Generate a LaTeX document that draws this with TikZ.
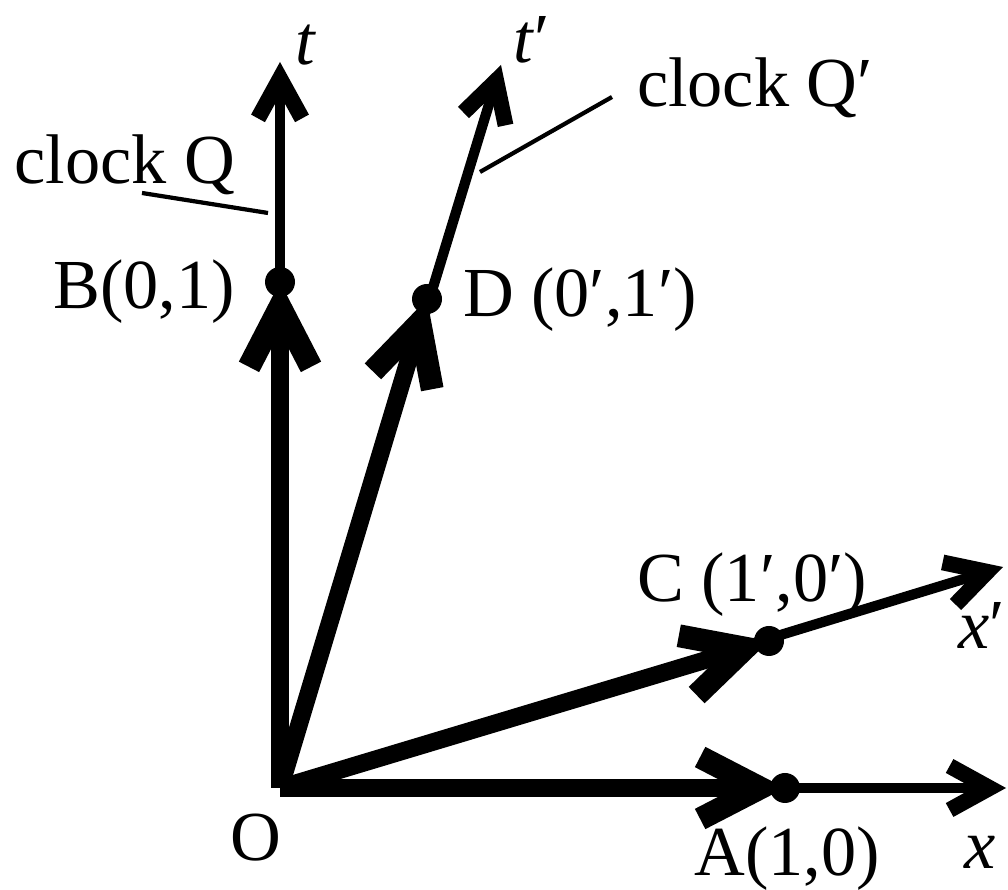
\documentclass[tikz,border=0pt]{standalone}
\usepackage{fontspec}
\setmainfont{Liberation Serif}
\usetikzlibrary{arrows.meta}

\begin{document}
\begin{tikzpicture}[
    font=\fontsize{20}{24}\selectfont,
    axis/.style={line width=2.9pt, -{Straight Barb[length=0.40cm, width=0.44cm, line width=4.5pt, line cap=butt, line join=miter]}},
    vec/.style={line width=5pt, -{Straight Barb[length=0.60cm, width=0.62cm, line width=6.5pt, line cap=butt, line join=miter]}},
    pointer/.style={line width=1.2pt},
    dot/.style={circle, fill, inner sep=0pt, minimum size=0.3cm}
  ]
    \useasboundingbox (-2.80,-1.02) rectangle (7.28,7.88);
    % Points
    \coordinate (O) at (0,0);
    \coordinate (A) at (5.05,0);
    \coordinate (B) at (0,5.06);
    \coordinate (C) at (4.89,1.47);
    \coordinate (D) at (1.47,4.89);
    \coordinate (xend) at (7.26,0);
    \coordinate (tend) at (0,7.26);
    \coordinate (xpend) at (7.23,2.21);
    \coordinate (tpend) at (2.21,7.23);
    % Axes
    \draw[axis] (O) -- (xend);
    \draw[axis] (O) -- (tend);
    \draw[axis] (O) -- (xpend);
    \draw[axis] (O) -- (tpend);
    % Unit vectors
    \draw[vec] (O) -- (A);
    \draw[vec] (O) -- (B);
    \draw[vec] (O) -- (C);
    \draw[vec] (O) -- (D);
    \node[dot] (dA) at (A) {};
    \node[dot] (dB) at (B) {};
    \node[dot] (dC) at (C) {};
    \node[dot] (dD) at (D) {};
    % Axis labels
    \node (lx) at (7.00,-0.64) {\textit{x}};
    \node (lt) at (0.26,7.43) {\textit{t}};
    \node[inner xsep=0pt] (lxp) at (7.02,1.63) {\textit{x}′};
    \node (ltp) at (2.52,7.48) {\textit{t}′};
    \node (lO) at (-0.24,-0.50) {O};
    % Point labels
    \node (lA) at (5.07,-0.71) {A(1,0)};
    \node (lB) at (-1.36,4.96) {B(0,1)};
    \node (lC) at (4.72,2.03) {C (1′,0′)};
    \node (lD) at (3.00,4.88) {D (0′,1′)};
    % Clocks
    \node (clockQ) at (-1.55,6.23) {clock Q};
    \node (clockQp) at (4.75,7.00) {clock Q′};
    \coordinate (q1) at (-1.38,5.95);
    \coordinate (q2) at (-0.12,5.75);
    \coordinate (qp1) at (2.00,6.16);
    \coordinate (qp2) at (3.32,6.91);
    \draw[pointer] (q1) -- (q2);
    \draw[pointer] (qp1) -- (qp2);
  \end{tikzpicture}
\end{document}
